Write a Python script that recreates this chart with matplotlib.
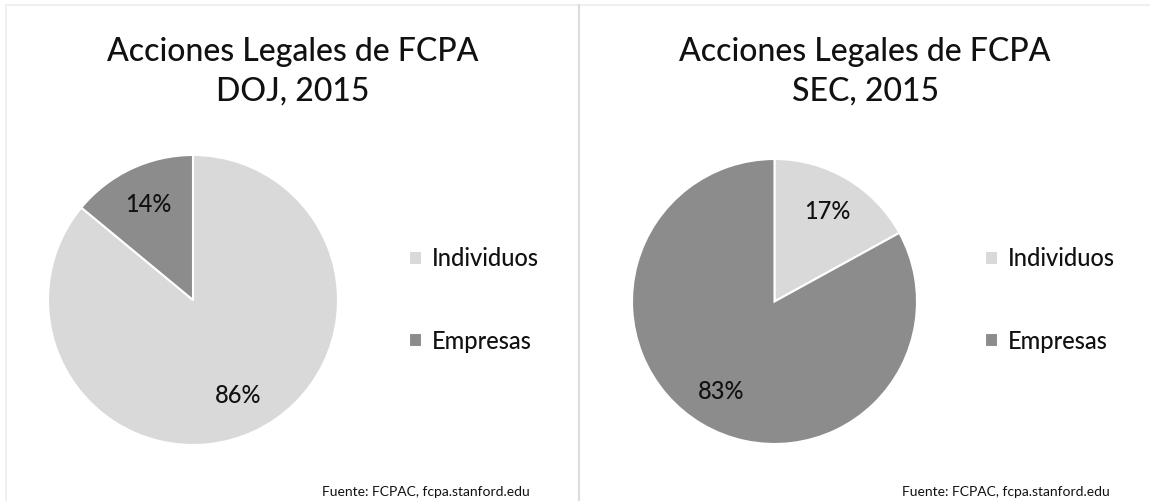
import matplotlib
matplotlib.use('Agg')
import matplotlib.pyplot as plt
from matplotlib.lines import Line2D

plt.rcParams['font.family'] = ['Lato', 'DejaVu Sans']

# datos
labels = ['Individuos', 'Empresas']
doj_values = [86, 14]
sec_values = [17, 83]
titles = ['Acciones Legales de FCPA\nDOJ, 2015', 'Acciones Legales de FCPA\nSEC, 2015']
source = 'Fuente: FCPAC, fcpa.stanford.edu'
colors = ['#d9d9d9', '#8c8c8c']

W, H = 1150, 501
fig = plt.figure(figsize=(W / 100, H / 100), dpi=100)
fig.patch.set_facecolor('white')


def px_axes(x0, y0, x1, y1):
    # caja en pixeles (origen arriba-izquierda) -> coordenadas de figura
    return fig.add_axes([x0 / W, 1 - y1 / H, (x1 - x0) / W, (y1 - y0) / H])


panels = [
    dict(values=doj_values, title=titles[0], pie=(48, 155, 338, 445),
         tx=293, leg_x=388, src_x=530),
    dict(values=sec_values, title=titles[1], pie=(632, 159, 917, 444),
         tx=865, leg_x=964, src_x=1110),
]

for p in panels:
    ax = px_axes(*p['pie'])
    wedges, texts, autotexts = ax.pie(
        p['values'], colors=colors, startangle=90, counterclock=False,
        autopct='%.0f%%', pctdistance=0.73,
        wedgeprops=dict(edgecolor='white', linewidth=1.5),
        textprops=dict(fontsize=17, color='#111111', fontweight='medium'))
    ax.set_xlim(-1.0, 1.0)
    ax.set_ylim(-1.0, 1.0)
    ax.set_aspect('equal')

    fig.text(p['tx'] / W, 1 - 72 / H, p['title'], ha='center', va='center',
             fontsize=23, color='#111111', linespacing=1.4, fontweight='medium')

    fig.legend(wedges, labels, loc='center left',
               bbox_to_anchor=(p['leg_x'] / W, 1 - 300 / H),
               frameon=False, handlelength=0.55, handleheight=0.55,
               handletextpad=0.4, labelspacing=2.5, labelcolor='#111111',
               prop=dict(size=17, weight='medium'))

    fig.text(p['src_x'] / W, 1 - 492 / H, source, ha='right', va='center',
             fontsize=10, color='#111111')

# bordes de los paneles y separador
fig.add_artist(Line2D([6 / W, 1], [1 - 5 / H, 1 - 5 / H], color='#eeeeee', lw=1.2))
fig.add_artist(Line2D([6 / W, 6 / W], [0, 1 - 5 / H], color='#eeeeee', lw=1.2))
fig.add_artist(Line2D([579 / W, 579 / W], [0, 1 - 5 / H], color='#dddddd', lw=1.6))

fig.savefig('out.png', dpi=100, facecolor='white')
